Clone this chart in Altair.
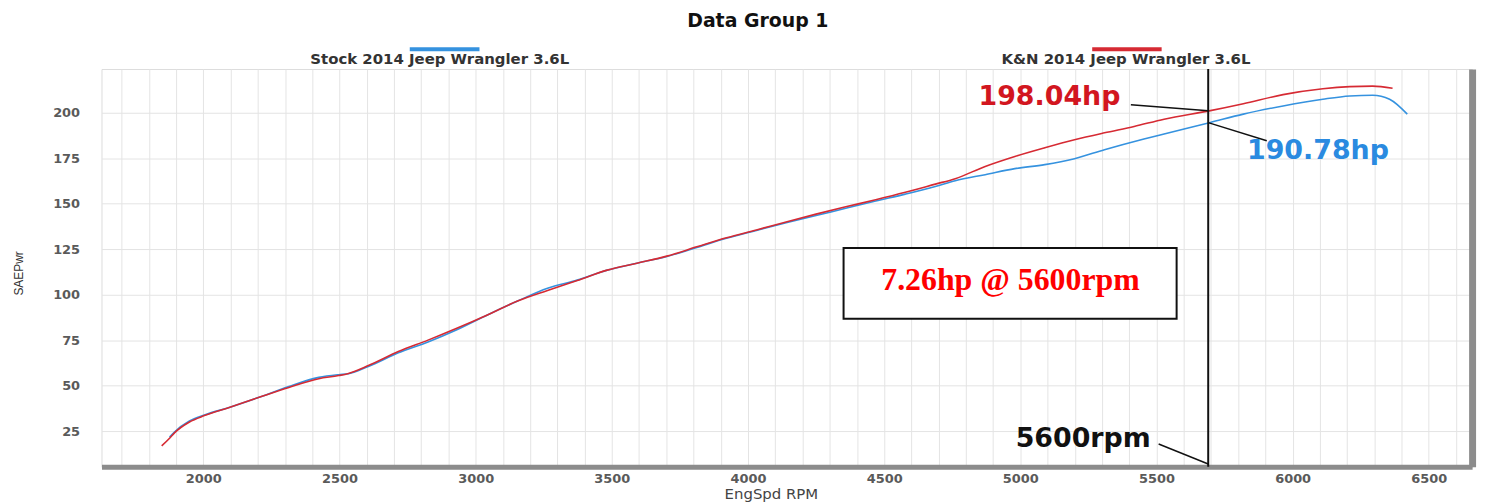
import altair as alt
import pandas as pd

# ---- data ----
stock_rpm = [1876, 1894, 1949, 2004, 2095, 2205, 2314, 2424, 2497, 2533, 2606, 2716, 2825, 2935, 3045,
             3154, 3264, 3373, 3483, 3592, 3702, 3812, 3921, 4031, 4140, 4250, 4359, 4469, 4578, 4688,
             4761, 4871, 4980, 5090, 5199, 5309, 5454, 5528, 5698, 5819, 5965, 6111, 6210, 6294, 6356, 6421]
stock_hp = [21.7, 24.5, 30.5, 33.8, 38.0, 43.6, 49.5, 54.5, 56.0, 56.5, 60.5, 68.0, 74.0, 81.0, 89.0,
            96.5, 103.5, 108.0, 113.5, 117.3, 121.0, 126.0, 131.0, 135.3, 139.5, 143.5, 147.5, 151.5, 155.3, 159.5,
            162.7, 166.0, 169.3, 171.5, 174.8, 179.7, 185.6, 188.4, 194.7, 199.3, 203.8, 207.5, 209.3, 209.7, 207.5, 199.3]

kn_rpm = [1847, 1876, 1894, 1949, 2004, 2095, 2205, 2314, 2424, 2497, 2533, 2606, 2716, 2825, 2935,
          3045, 3154, 3264, 3373, 3483, 3592, 3702, 3812, 3921, 4031, 4140, 4250, 4359, 4469, 4578,
          4688, 4761, 4871, 4980, 5090, 5199, 5309, 5418, 5528, 5698, 5819, 5965, 6111, 6210, 6294, 6367]
kn_hp = [16.8, 21.0, 24.0, 30.0, 33.5, 38.0, 43.6, 49.0, 53.8, 55.5, 56.7, 61.0, 68.7, 75.0, 81.8,
         89.0, 96.5, 102.3, 107.8, 113.5, 117.3, 121.2, 126.3, 131.3, 135.6, 140.0, 144.3, 148.3, 152.2, 156.3,
         160.8, 163.8, 170.5, 176.0, 180.8, 185.2, 189.0, 192.5, 196.5, 201.2, 205.0, 210.0, 213.2, 214.4, 214.7, 213.5]

series_names = ["Stock 2014 Jeep Wrangler 3.6L", "K&N 2014 Jeep Wrangler 3.6L"]
series_colors = ["#3592df", "#d62a33"]

y_ticks = [25, 50, 75, 100, 125, 150, 175, 200]
x_grid = list(range(1700, 6700, 100))

chart_title = "Data Group 1"
cursor_rpm = 5690
cursor_labels = ["198.04hp", "190.78hp", "5600rpm"]
gain_text = "7.26hp @ 5600rpm"

X_DOM = [1626, 6659]
Y_DOM = [5.3, 224.1]

# ---- tables ----
stock_df = pd.DataFrame({"rpm": stock_rpm, "hp": stock_hp})
kn_df = pd.DataFrame({"rpm": kn_rpm, "hp": kn_hp})

xs = alt.Scale(domain=X_DOM, nice=False, zero=False)
ys = alt.Scale(domain=Y_DOM, nice=False, zero=False)

FONT = "DejaVu Sans"

x_axis = alt.Axis(values=x_grid, labelExpr="datum.value % 500 === 0 ? datum.value : ''",
                  grid=True, gridColor="#e4e4e4", gridWidth=1, ticks=False, tickSize=0,
                  domainColor="#8c8c8c", domainWidth=5, labelFont=FONT, labelFontWeight="bold",
                  labelFontSize=13, labelColor="#5a5a5a", labelPadding=6, labelOverlap=False,
                  labelFlush=False, title="EngSpd RPM", titleFont=FONT, titleFontWeight="normal",
                  titleFontSize=15, titleColor="#444444", titleX=673, titleY=27,
                  titleBaseline="middle", titleAlign="center")
y_axis = alt.Axis(values=y_ticks, grid=True, gridColor="#e4e4e4", gridWidth=1, ticks=False,
                  tickSize=0, domain=False, labelFont=FONT, labelFontWeight="bold", labelFontSize=13,
                  labelColor="#5a5a5a", labelPadding=22, title="SAEPwr", titleFont="Liberation Sans",
                  titleFontWeight="normal", titleFontSize=12, titleColor="#333333", titleX=-83,
                  titleY=205, titleBaseline="middle", titleAlign="center", titleAngle=270)
right_axis = alt.Axis(orient="right", labels=False, ticks=False, grid=False, domainColor="#8c8c8c",
                      domainWidth=7, title=None)

stock = alt.Chart(stock_df).mark_line(color=series_colors[0], strokeWidth=1.6, interpolate="monotone").encode(
    x=alt.X("rpm:Q", scale=xs, axis=x_axis),
    y=alt.Y("hp:Q", scale=ys, axis=y_axis),
)
kn = alt.Chart(kn_df).mark_line(color=series_colors[1], strokeWidth=1.6, interpolate="monotone").encode(
    x=alt.X("rpm:Q", scale=xs, axis=None),
    y=alt.Y("hp:Q", scale=ys, axis=None),
)

# cursor line (also carries the right-hand frame bar axis)
cursor_df = pd.DataFrame({"rpm": [cursor_rpm], "lo": [Y_DOM[0]], "hi": [Y_DOM[1]]})
cursor = alt.Chart(cursor_df).mark_rule(color="#111111", strokeWidth=2).encode(
    x=alt.X("rpm:Q", scale=xs, axis=None),
    y=alt.Y("lo:Q", scale=ys, axis=right_axis),
    y2="hi:Q",
)

# leader lines
lead_df = pd.DataFrame({
    "x1": [5406, cursor_rpm, 5508], "y1": [204.4, 194.6, 17.9],
    "x2": [cursor_rpm, 5905, cursor_rpm], "y2": [201.2, 184.6, 6.9],
})
leaders = alt.Chart(lead_df).mark_rule(color="#111111", strokeWidth=1.5).encode(
    x=alt.X("x1:Q", scale=xs, axis=None), y=alt.Y("y1:Q", scale=ys, axis=None),
    x2="x2:Q", y2="y2:Q",
)

lab_df = pd.DataFrame({"rpm": [5107, 6093, 5231], "hp": [208.7, 178.9, 20.6],
                       "text": cursor_labels, "col": ["#d2161f", "#2a8ae0", "#111111"]})
labels = alt.Chart(lab_df).mark_text(font=FONT, fontWeight="bold", fontSize=27, baseline="middle",
                                     align="center").encode(
    x=alt.X("rpm:Q", scale=xs, axis=None), y=alt.Y("hp:Q", scale=ys, axis=None),
    text="text:N", color=alt.Color("col:N", scale=None),
)

# gain box
box_df = pd.DataFrame({"x1": [4351], "x2": [5574], "y1": [86.7], "y2": [125.6],
                       "cx": [4964], "cy": [102.6], "text": [gain_text]})
box = alt.Chart(box_df).mark_rect(fill="white", stroke="#111111", strokeWidth=2).encode(
    x=alt.X("x1:Q", scale=xs, axis=None), x2="x2:Q",
    y=alt.Y("y1:Q", scale=ys, axis=None), y2="y2:Q",
)
box_text = alt.Chart(box_df).mark_text(font="Liberation Serif", fontWeight="bold", fontSize=32,
                                       color="#ff0000", baseline="alphabetic", align="center").encode(
    x=alt.X("cx:Q", scale=xs, axis=None), y=alt.Y("cy:Q", scale=ys, axis=None), text="text:N",
)

# legend (drawn above the plot)
leg_df = pd.DataFrame({"name": series_names, "col": series_colors,
                       "bx1": [2758, 5264], "bx2": [3014, 5519], "by": [235.0, 235.0],
                       "tx": [2868, 5388], "ty": [229.5, 229.5]})
leg_bar = alt.Chart(leg_df).mark_rule(strokeWidth=4).encode(
    x=alt.X("bx1:Q", scale=xs, axis=None), x2="bx2:Q",
    y=alt.Y("by:Q", scale=ys, axis=None), color=alt.Color("col:N", scale=None),
)
leg_text = alt.Chart(leg_df).mark_text(font=FONT, fontWeight="bold", fontSize=15, color="#333333",
                                       baseline="middle", align="center").encode(
    x=alt.X("tx:Q", scale=xs, axis=None), y=alt.Y("ty:Q", scale=ys, axis=None), text="name:N",
)

# chart heading
title_df = pd.DataFrame({"rpm": [4036], "hp": [250.3], "text": [chart_title]})
title = alt.Chart(title_df).mark_text(font=FONT, fontWeight="bold", fontSize=19, color="#111111",
                                      baseline="middle", align="center").encode(
    x=alt.X("rpm:Q", scale=xs, axis=None), y=alt.Y("hp:Q", scale=ys, axis=None), text="text:N",
)

chart = alt.layer(stock, kn, cursor, leaders, labels, box, box_text, leg_bar, leg_text, title).resolve_axis(
    x="independent", y="independent"
).properties(
    width=1378, height=400,
    padding={"left": 94, "top": 60, "right": 17, "bottom": 36},
    autosize=alt.AutoSizeParams(type="none"),
).configure_view(stroke="#dddddd", strokeWidth=1).configure(background="white")

chart.save("out.html", embed_options={"renderer": "svg", "actions": False})
